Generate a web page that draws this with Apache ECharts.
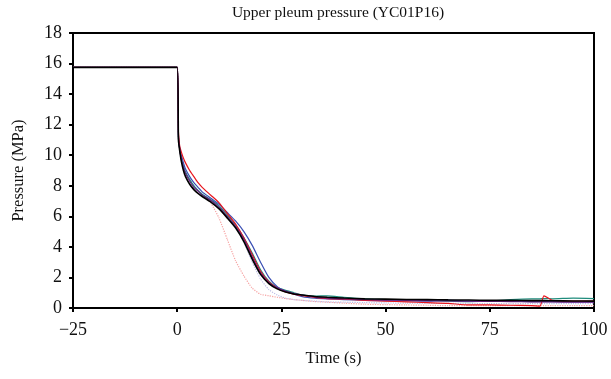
<!DOCTYPE html>
<html>
<head>
<meta charset="utf-8">
<script src="https://cdn.jsdelivr.net/npm/echarts@6/dist/echarts.min.js"></script>
<style>
  html, body { margin: 0; padding: 0; background: #fff; }
  #main { width: 611px; height: 379px; }
</style>
</head>
<body>
<div id="main"></div>
<script>
var times = [-25, 0, 0.3, 0.6, 1, 1.5, 2, 3, 4, 5, 6, 8, 10, 12, 14, 16, 18, 20, 22, 24,
    26, 28, 30, 33, 36, 40, 45, 50, 55, 60, 65, 70, 75, 80, 85, 87, 88, 90, 95, 100];

var blackRun = [15.75, 15.75, 11.0, 10.3, 9.6, 9.0, 8.6, 8.1, 7.75, 7.5, 7.3, 6.95, 6.5, 5.9, 5.25, 4.35, 3.2, 2.2, 1.6, 1.25,
    1.05, 0.92, 0.85, 0.75, 0.7, 0.65, 0.6, 0.58, 0.56, 0.55, 0.53, 0.52, 0.5, 0.5, 0.48, 0.48, 0.48, 0.47, 0.46, 0.45];
var redRun = [15.75, 15.75, 11.5, 10.6, 10.2, 9.8, 9.5, 9.0, 8.6, 8.2, 7.9, 7.4, 6.9, 6.2, 5.5, 4.6, 3.5, 2.4, 1.7, 1.3,
    1.05, 0.9, 0.8, 0.7, 0.62, 0.58, 0.5, 0.45, 0.4, 0.35, 0.3, 0.2, 0.2, 0.18, 0.15, 0.12, 0.8, 0.5, 0.45, 0.45];
var blueRun = [15.75, 15.75, 11.3, 10.5, 10.0, 9.5, 9.1, 8.6, 8.2, 7.9, 7.6, 7.2, 6.8, 6.25, 5.7, 5.0, 4.1, 3.0, 2.0, 1.4,
    1.1, 0.9, 0.75, 0.65, 0.6, 0.55, 0.5, 0.48, 0.46, 0.45, 0.52, 0.45, 0.45, 0.43, 0.42, 0.42, 0.42, 0.42, 0.4, 0.4];
var tealRun = [15.75, 15.75, 11.2, 10.4, 9.8, 9.3, 8.9, 8.4, 8.0, 7.7, 7.45, 7.1, 6.7, 6.1, 5.45, 4.6, 3.6, 2.5, 1.75, 1.35,
    1.15, 1.0, 0.85, 0.78, 0.8, 0.7, 0.6, 0.55, 0.5, 0.5, 0.45, 0.42, 0.45, 0.55, 0.6, 0.6, 0.62, 0.6, 0.65, 0.62];
var purpleRun = [15.75, 15.75, 11.1, 10.4, 9.7, 9.2, 8.8, 8.3, 7.9, 7.65, 7.4, 7.05, 6.6, 6.0, 5.35, 4.5, 3.35, 2.3, 1.65, 1.3,
    1.1, 0.95, 0.85, 0.72, 0.65, 0.6, 0.55, 0.52, 0.5, 0.48, 0.46, 0.45, 0.43, 0.42, 0.4, 0.4, 0.4, 0.4, 0.38, 0.38];
var pinkRun = [15.75, 15.75, 11.2, 10.4, 9.8, 9.3, 8.9, 8.4, 8.0, 7.7, 7.45, 6.9, 5.9, 4.5, 3.1, 2.1, 1.3, 0.9, 0.8, 0.7,
    0.62, 0.55, 0.5, 0.42, 0.38, 0.32, 0.25, 0.22, 0.2, 0.18, 0.15, 0.15, 0.15, 0.15, 0.15, 0.15, 0.15, 0.15, 0.15, 0.15];
var lavenderRun = [15.75, 15.75, 11.2, 10.4, 9.8, 9.3, 8.9, 8.4, 8.0, 7.7, 7.45, 7.05, 6.6, 6.0, 5.3, 4.3, 3.0, 1.9, 1.2, 0.85,
    0.65, 0.55, 0.5, 0.45, 0.4, 0.38, 0.35, 0.33, 0.32, 0.3, 0.3, 0.3, 0.28, 0.28, 0.28, 0.28, 0.28, 0.28, 0.28, 0.28];

function pairs(vals) {
    return times.map(function (t, i) { return [t, vals[i]]; });
}

var font = 'Liberation Serif';

function run(name, vals, color, width, type, z) {
    return {
        name: name,
        type: 'line',
        data: pairs(vals),
        showSymbol: false,
        smooth: 0.2,
        z: z,
        lineStyle: { color: color, width: width, type: type || 'solid' }
    };
}

var myChart = echarts.init(document.getElementById('main'));

option = {
    animation: false,
    title: {
        text: 'Upper pleum pressure (YC01P16)',
        left: 333,
        textAlign: 'center',
        top: 0,
        textStyle: { fontFamily: font, fontSize: 15.5, fontWeight: 'normal', color: '#111' }
    },
    grid: {
        left: 73, right: 17, top: 33, bottom: 71,
        show: true, borderColor: '#000', borderWidth: 2
    },
    xAxis: {
        type: 'value',
        min: -25, max: 100, interval: 25,
        name: 'Time (s)',
        nameLocation: 'middle',
        nameGap: 42,
        nameTextStyle: { fontFamily: font, fontSize: 16.5, color: '#111' },
        axisLine: { onZero: false, lineStyle: { color: '#000', width: 2 } },
        axisTick: { inside: false, length: 4, lineStyle: { color: '#000', width: 2 } },
        axisLabel: {
            fontFamily: font, fontSize: 18, color: '#111', margin: 13,
            formatter: function (v) { return String(v).replace('-', '\u2212'); }
        },
        splitLine: { show: false }
    },
    yAxis: {
        type: 'value',
        min: 0, max: 18, interval: 2,
        name: 'Pressure (MPa)',
        nameLocation: 'middle',
        nameGap: 46,
        nameTextStyle: { fontFamily: font, fontSize: 16.5, color: '#111' },
        axisLine: { show: true, onZero: false, lineStyle: { color: '#000', width: 2 } },
        axisTick: { show: true, length: 4, lineStyle: { color: '#000', width: 2 } },
        axisLabel: { fontFamily: font, fontSize: 18, color: '#111', margin: 11 },
        splitLine: { show: false }
    },
    series: [
        run('pink', pinkRun, '#f6a3a3', 1.2, 'dotted', 1),
        run('lavender', lavenderRun, '#bcbce6', 1.2, 'dotted', 2),
        run('teal', tealRun, '#1f8c7c', 1.2, 'solid', 3),
        run('blue', blueRun, '#3a4fb4', 1.2, 'solid', 4),
        run('red', redRun, '#e8141c', 1.2, 'solid', 5),
        run('purple', purpleRun, '#6b1f80', 1.2, 'solid', 6),
        run('black', blackRun, '#000000', 1.6, 'solid', 7)
    ]
};

myChart.setOption(option);
</script>
</body>
</html>
